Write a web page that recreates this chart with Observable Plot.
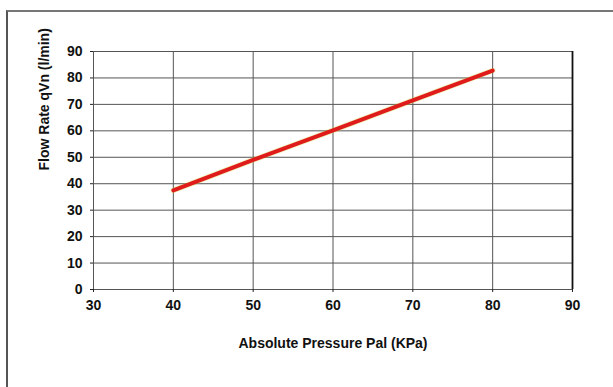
<!DOCTYPE html>
<html>
<head>
<meta charset="utf-8">
<script src="https://cdn.jsdelivr.net/npm/d3@7"></script>
<script src="https://cdn.jsdelivr.net/npm/@observablehq/plot@0.6"></script>
<style>
  html, body { margin: 0; padding: 0; background: #fff; }
  body { width: 613px; height: 387px; overflow: hidden; position: relative; }
  #frame { position: absolute; left: 6px; top: 10px; width: 640px; height: 420px;
           border-left: 2px solid #555; border-top: 2px solid #777; box-sizing: border-box; }
  #chart { position: absolute; left: 0; top: 0; }
</style>
</head>
<body>
<div id="frame"></div>
<div id="chart"></div>
<script>
const pressure = [40, 50, 60, 70, 80];
const flowRate = [37.5, 49, 60.2, 71.5, 82.8];
const xTicks = [30, 40, 50, 60, 70, 80, 90];
const yTicks = [0, 10, 20, 30, 40, 50, 60, 70, 80, 90];
const xLabel = "Absolute Pressure Pal (KPa)";
const yLabel = "Flow Rate qVn (l/min)";

const data = pressure.map((p, i) => ({p, q: flowRate[i]}));

const plot = Plot.plot({
  width: 613,
  height: 387,
  marginLeft: 93,
  marginRight: 41,
  marginTop: 51,
  marginBottom: 98,
  style: {fontFamily: "'Liberation Sans', Arial, sans-serif", fontWeight: "bold", fontSize: "14px", color: "#111", background: "transparent"},
  x: {domain: [30, 90], ticks: xTicks, label: null},
  y: {domain: [0, 90], ticks: yTicks, label: null},
  marks: [
    Plot.ruleX(xTicks, {x: d => d, stroke: "#555", strokeWidth: 1}),
    Plot.ruleY(yTicks, {y: d => d, stroke: "#555", strokeWidth: 1}),
    Plot.ruleX([90], {x: d => d, stroke: "#111", strokeWidth: 1.8}),
    Plot.axisX({ticks: xTicks, tickSize: 3, tickPadding: 8, fontSize: 14, fontWeight: "bold", stroke: "#222", label: null}),
    Plot.axisY({ticks: yTicks, tickSize: 3, tickPadding: 8, fontSize: 14, fontWeight: "bold", stroke: "#222", label: null}),
    Plot.line(data, {x: "p", y: "q", stroke: "#c9d62a", strokeWidth: 5.5, strokeOpacity: 0.35}),
    Plot.line(data, {x: "p", y: "q", stroke: "#e01b1b", strokeWidth: 4}),
    Plot.text([xLabel], {frameAnchor: "bottom", dy: 58, text: d => d, fontSize: 14, fontWeight: "bold", fill: "#111"}),
    Plot.text([yLabel], {frameAnchor: "left", dx: -49, rotate: -90, text: d => d, fontSize: 14, fontWeight: "bold", fill: "#111"})
  ]
});
document.getElementById("chart").appendChild(plot);
</script>
</body>
</html>
